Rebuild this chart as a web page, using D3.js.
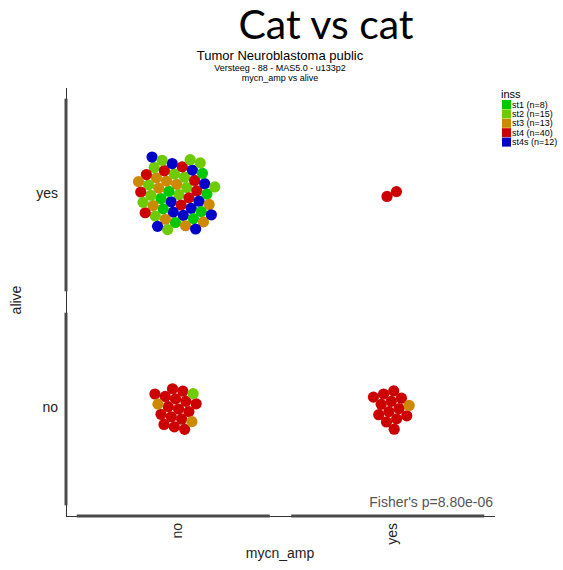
<!DOCTYPE html>
<html>
<head>
<meta charset="utf-8">
<script src="https://cdn.jsdelivr.net/npm/d3@7"></script>
<style>
  html, body { margin: 0; padding: 0; background: #fff; }
  svg { display: block; font-family: "Liberation Sans", Arial, sans-serif; }
</style>
</head>
<body>
<svg id="chart" width="563" height="570"></svg>
<script>
// ---- data ----
const mycnCategories = ["no", "yes"];          // x axis
const aliveCategories = ["yes", "no"];         // y axis (top to bottom)
const stages = ["st1", "st2", "st3", "st4", "st4s"];
const stageCounts = [8, 15, 13, 40, 12];
const stageColors = ["#00c800", "#6ecb00", "#cc8a00", "#cc0000", "#0000c8"];
// counts per stage in each (mycn_amp, alive) cell
const countsNoYes  = [8, 14, 10, 9, 12];
const countsNoNo   = [0, 1, 2, 16, 0];
const countsYesNo  = [0, 0, 1, 13, 0];
const countsYesYes = [0, 0, 0, 2, 0];
const cells = [
  { mycn: "no",  alive: "yes", counts: countsNoYes },
  { mycn: "no",  alive: "no",  counts: countsNoNo },
  { mycn: "yes", alive: "no",  counts: countsYesNo },
  { mycn: "yes", alive: "yes", counts: countsYesYes }
];
const mainTitle = "Cat vs cat";
const titleLines = ["Tumor Neuroblastoma public", "Versteeg - 88 - MAS5.0 - u133p2", "mycn_amp vs alive"];
const pText = "Fisher's p=8.80e-06";
const legendTitle = "inss";

// ---- layout ----
const svg = d3.select("#chart");
const pL = 66, pR = 495, pT = 88, pB = 516;
const x = d3.scaleBand().domain(mycnCategories).range([pL, pR]);
const y = d3.scaleBand().domain(aliveCategories).range([pT, pB]);
const color = d3.scaleOrdinal().domain(stages).range(stageColors);
const r = 5.6;

// titles
svg.append("text").attr("x", 326).attr("y", 39).attr("text-anchor", "middle")
  .style("font-family", "Lato, 'Open Sans', sans-serif").style("font-size", "41px").attr("fill", "#000")
  .text(mainTitle);
svg.append("text").attr("x", 280).attr("y", 60).attr("text-anchor", "middle")
  .style("font-size", "13px").text(titleLines[0]);
svg.append("text").attr("x", 280).attr("y", 71).attr("text-anchor", "middle")
  .style("font-size", "9px").text(titleLines[1]);
svg.append("text").attr("x", 280).attr("y", 81).attr("text-anchor", "middle")
  .style("font-size", "9px").text(titleLines[2]);

// axis lines
svg.append("line").attr("x1", pL + 0.5).attr("x2", pL + 0.5).attr("y1", pT).attr("y2", pB + 0.5)
  .attr("stroke", "#333").attr("stroke-width", 1);
svg.append("line").attr("x1", pL).attr("x2", pR).attr("y1", pB + 0.5).attr("y2", pB + 0.5)
  .attr("stroke", "#333").attr("stroke-width", 1);

// range bars (thick)
const padX = x.bandwidth() * 0.05, padY = y.bandwidth() * 0.05;
svg.selectAll(".xbar").data(mycnCategories).join("line")
  .attr("x1", d => x(d) + padX).attr("x2", d => x(d) + x.bandwidth() - padX)
  .attr("y1", pB).attr("y2", pB).attr("stroke", "#4a4a4a").attr("stroke-width", 3);
svg.selectAll(".ybar").data(aliveCategories).join("line")
  .attr("x1", pL).attr("x2", pL)
  .attr("y1", d => y(d) + padY).attr("y2", d => y(d) + y.bandwidth() - padY)
  .attr("stroke", "#4a4a4a").attr("stroke-width", 3);

// tick labels
svg.selectAll(".xlab").data(mycnCategories).join("text")
  .attr("transform", d => `translate(${x(d) + x.bandwidth() / 2 + 4},523) rotate(-90)`)
  .attr("text-anchor", "end").attr("dy", "0.35em").style("font-size", "14px").attr("fill", "#222")
  .text(d => d);
svg.selectAll(".ylab").data(aliveCategories).join("text")
  .attr("x", 58).attr("y", d => y(d) + y.bandwidth() / 2 - 2)
  .attr("text-anchor", "end").attr("dy", "0.35em").style("font-size", "14px").attr("fill", "#222")
  .text(d => d);

// axis titles
svg.append("text").attr("x", 280).attr("y", 558).attr("text-anchor", "middle")
  .style("font-size", "14px").attr("fill", "#222").text("mycn_amp");
svg.append("text").attr("transform", "translate(21,300) rotate(-90)").attr("text-anchor", "middle")
  .style("font-size", "14px").attr("fill", "#222").text("alive");

// p-value
svg.append("text").attr("x", 493).attr("y", 507).attr("text-anchor", "end")
  .style("font-size", "14px").attr("fill", "#555").text(pText);

// points: pack each cell with a force layout
cells.forEach(cell => {
  const pools = cell.counts.map((c, i) => d3.range(c).map(() => stages[i]));
  // larger groups first so minorities sit toward the rim in small cells
  pools.sort((a, b) => b.length - a.length);
  const nodes = [];
  let added = true, k = 0;
  while (added) {
    added = false;
    pools.forEach(p => { if (k < p.length) { nodes.push({ stage: p[k] }); added = true; } });
    k++;
  }
  if (cell.counts.filter(c => c > 0).length > 1 && d3.sum(cell.counts) < 30) {
    nodes.sort((a, b) => d3.descending(cell.counts[stages.indexOf(a.stage)], cell.counts[stages.indexOf(b.stage)]));
  }
  const sim = d3.forceSimulation(nodes)
    .force("x", d3.forceX(0).strength(0.07))
    .force("y", d3.forceY(0).strength(0.07))
    .force("collide", d3.forceCollide(r - 0.3).strength(1).iterations(3))
    .stop();
  for (let i = 0; i < 300; i++) sim.tick();
  const cx = x(cell.mycn) + x.bandwidth() / 2 + (cell.mycn === "yes" ? 4 : 3);
  const cy = y(cell.alive) + y.bandwidth() / 2 - 1;
  svg.append("g").attr("transform", `translate(${cx},${cy})`)
    .selectAll("circle").data(nodes).join("circle")
    .attr("cx", d => d.x).attr("cy", d => d.y).attr("r", r)
    .attr("fill", d => color(d.stage));
});

// legend
const lg = svg.append("g").attr("transform", "translate(501,0)");
lg.append("text").attr("x", 0).attr("y", 98).style("font-size", "11px").text(legendTitle);
const items = lg.selectAll(".li").data(stages).join("g")
  .attr("transform", (d, i) => `translate(0,${100 + i * 9.4})`);
items.append("rect").attr("x", 1).attr("y", 0).attr("width", 9).attr("height", 9)
  .attr("fill", d => color(d));
items.append("text").attr("x", 11).attr("y", 4.5).attr("dy", "0.35em").style("font-size", "9px")
  .text((d, i) => `${d} (n=${stageCounts[i]})`);
</script>
</body>
</html>
